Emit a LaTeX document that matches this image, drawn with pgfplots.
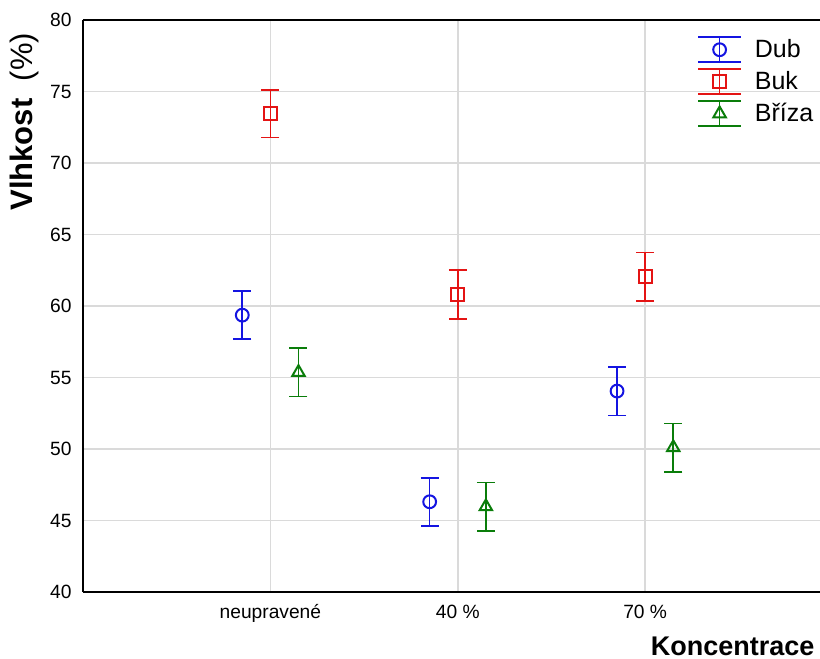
\documentclass[border=0pt]{standalone}
\usepackage{fontspec}
\setmainfont{Liberation Sans}
\usepackage{pgfplots}
\pgfplotsset{compat=1.18}
\definecolor{dubc}{RGB}{20,20,225}
\definecolor{bukc}{RGB}{228,20,20}
\definecolor{brc}{RGB}{10,125,10}
\definecolor{gridc}{RGB}{218,218,218}
\newcommand{\legimg}[3]{%
  \draw[#1, line width=0.8pt] (10.75pt,-6.25pt) -- (10.75pt,6.25pt);
  \draw[#1, line width=0.8pt] (0pt,6.25pt) -- (21.5pt,6.25pt);
  \draw[#1, line width=0.8pt] (0pt,-6.25pt) -- (21.5pt,-6.25pt);
  \path[draw=#1, line width=1pt, mark=#2, mark size=#3, mark options={fill=white, solid}] plot coordinates {(10.75pt,0pt)};
}
\begin{document}
\begin{tikzpicture}
\begin{axis}[
  scale only axis,
  width=368.5pt, height=286pt,
  xmin=0, xmax=3.933, ymin=40, ymax=80,
  axis x line*=box, axis y line*=left,
  axis line style={black, line width=1pt},
  xtick={1,2,3}, xticklabels={neupravené, 40 \%, 70 \%},
  ytick={40,45,...,80},
  major tick length=0pt,
  grid=major,
  major grid style={gridc, line width=0.75pt},
  /pgf/number format/assume math mode=true,
  xticklabel style={font=\fontsize{9.6}{11}\selectfont, anchor=base, yshift=-13pt},
  yticklabel style={font=\fontsize{9.6}{11}\selectfont, anchor=east, inner sep=0pt, xshift=-5.5pt},
  xlabel={\textbf{Koncentrace}},
  xlabel style={font=\fontsize{13.5}{15}\selectfont, at={(axis description cs:0.993,-0.1112)}, anchor=base east, inner sep=0pt},
  ylabel={\textbf{Vlhkost}\ \ (\%)},
  ylabel style={font=\fontsize{15.5}{17}\selectfont, at={(axis description cs:-0.068,0.822)}, anchor=base, inner sep=0pt},
  legend style={draw=none, fill=none, font=\fontsize{12.5}{14}\selectfont,
    at={(axis description cs:0.833,0.972)}, anchor=north west, inner sep=0pt,
    row sep=2.7pt, nodes={inner sep=0pt},
    /tikz/every odd column/.append style={column sep=6.5pt}},
  legend cell align=left,
  error bars/y dir=both, error bars/y explicit,
]
\addplot[dubc, only marks, mark=o, mark size=3.2pt, mark options={line width=1pt},
  error bars/error bar style={dubc, line width=0.8pt},
  error bars/error mark options={rotate=90, dubc, mark size=4.5pt, line width=0.8pt},
  legend image code/.code={\legimg{dubc}{o}{3.2pt}}]
  coordinates {(0.85,59.36) +- (0,1.68) (1.85,46.31) +- (0,1.68) (2.85,54.05) +- (0,1.7)};
\addlegendentry{Dub}
\addplot[bukc, only marks, mark=square, mark size=3.2pt, mark options={line width=1pt},
  error bars/error bar style={bukc, line width=0.8pt},
  error bars/error mark options={rotate=90, bukc, mark size=4.5pt, line width=0.8pt},
  legend image code/.code={\legimg{bukc}{square}{3.2pt}}]
  coordinates {(1,73.45) +- (0,1.67) (2,60.82) +- (0,1.71) (3,62.05) +- (0,1.69)};
\addlegendentry{Buk}
\addplot[brc, only marks, mark=triangle, mark size=3.6pt, mark options={line width=1pt},
  error bars/error bar style={brc, line width=0.8pt},
  error bars/error mark options={rotate=90, brc, mark size=4.5pt, line width=0.8pt},
  legend image code/.code={\legimg{brc}{triangle}{3.6pt}}]
  coordinates {(1.15,55.36) +- (0,1.69) (2.15,45.97) +- (0,1.69) (3.15,50.1) +- (0,1.69)};
\addlegendentry{Bříza}
\end{axis}
\pgfresetboundingbox
\path[use as bounding box] (-41.5pt,-33.5pt) rectangle (368.5pt,296pt);
\end{tikzpicture}
\end{document}
